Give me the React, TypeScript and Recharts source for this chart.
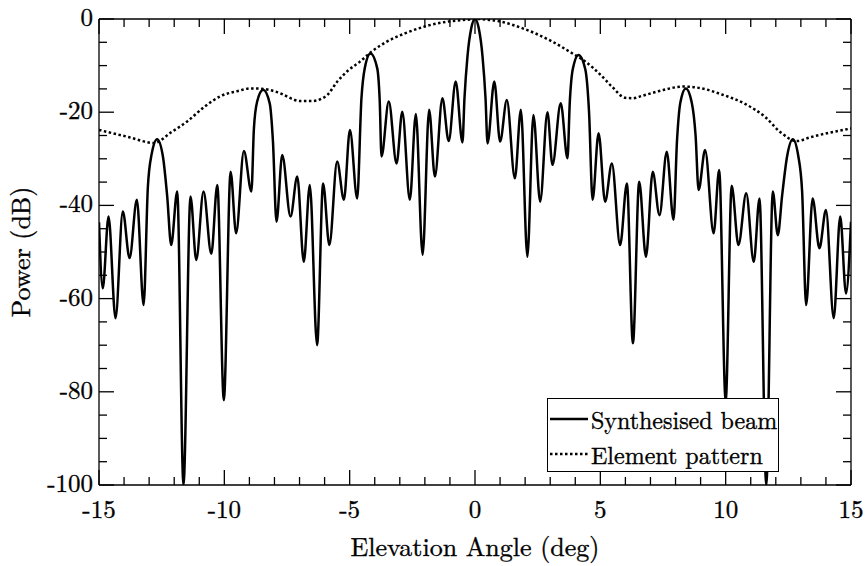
import { Label, Legend, Line, LineChart, XAxis, YAxis } from 'recharts';

const FONT = 'Latin Modern Roman, Liberation Serif, serif';
const INK = '#000';

// Synthesised beam: peaks, nulls and flanks of each lobe, left to right.
const BEAM_ANGLE = [
  -15.0, -14.85, -14.62, -14.34, -14.05, -13.78, -13.49, -13.22,
  -13.05, -12.9, -12.68, -12.45, -12.28,
  -12.12, -11.88, -11.63, -11.35, -11.12, -10.83, -10.52, -10.28, -10.02,
  -9.75, -9.53, -9.22, -8.92,
  -8.82, -8.69, -8.45, -8.19, -8.06,
  -7.92, -7.69, -7.36, -7.09, -6.83, -6.59, -6.3, -6.06, -5.81, -5.5, -5.23,
  -4.99, -4.7,
  -4.53, -4.4, -4.17, -3.9, -3.8,
  -3.73, -3.44, -3.13, -2.9, -2.6, -2.36, -2.09, -1.83, -1.6, -1.3, -1.05,
  -0.77, -0.5,
  -0.42, -0.3, -0.15, 0, 0.15, 0.3, 0.42,
  0.5, 0.77, 1.0, 1.27, 1.59, 1.83, 2.09, 2.33, 2.6, 2.89, 3.09, 3.42, 3.69,
  3.78, 3.9, 4.13, 4.4, 4.55,
  4.69, 4.93, 5.19, 5.46, 5.79, 6.06, 6.3, 6.55, 6.82, 7.09, 7.36, 7.65, 7.92,
  8.06, 8.19, 8.41, 8.65, 8.8,
  8.92, 9.18, 9.52, 9.74, 10.0, 10.24, 10.51, 10.82, 11.12, 11.35, 11.62,
  11.88, 12.08,
  12.25, 12.45, 12.68, 12.9, 13.05,
  13.21, 13.47, 13.74, 14.0, 14.31, 14.57, 14.8, 15.0,
];
const BEAM_DB = [
  -43.6, -57.8, -42.4, -64.2, -41.3, -51.3, -38.8, -61.4,
  -36, -29, -25.8, -29.5, -38,
  -48.5, -37.0, -100, -38.1, -51.7, -37.0, -50.4, -35.6, -81.8,
  -32.8, -46.0, -28.3, -37.0,
  -23.5, -17.7, -15.2, -18.1, -26.3,
  -43.5, -29.2, -42.4, -33.8, -52.1, -35.6, -70.0, -35.3, -48.5, -30.6, -38.8,
  -23.8, -38.5,
  -17, -10.6, -7.4, -10.6, -17.7,
  -29.5, -17.7, -31.0, -19.9, -38.8, -20.4, -50.6, -19.5, -33.8, -17.0, -26.2,
  -13.4, -26.5,
  -17, -8, -2, 0, -2, -8, -17,
  -26.7, -13.4, -26.3, -17.4, -34.2, -19.5, -51.0, -20.6, -39.2, -20.0, -31.3, -18.1, -29.9,
  -18, -10.8, -7.7, -10.8, -20,
  -38.8, -24.5, -39.2, -31.0, -48.5, -35.3, -69.6, -34.9, -51.0, -32.8, -42.1, -28.5, -43.1,
  -26, -18, -14.9, -18, -25,
  -36.7, -28.1, -46.0, -32.4, -82.0, -35.8, -48.5, -37.4, -52.1, -38.5, -100,
  -37.0, -46.4,
  -38, -29.5, -25.8, -29.5, -37,
  -61.4, -38.5, -49.2, -41.0, -64.2, -42.4, -58.9, -43.5,
];

// Element pattern envelope.
const ELEMENT_ANGLE = [
  -15, -13.85, -12.8, -12.12, -11.46, -10.79, -10.13, -9.49, -8.96, -8.43, -7.89,
  -6.96, -6.5, -6.16, -5.89, -5.49, -5.05, -4.6, -4.13, -3.53, -2.8, -2.0, -1.14,
  -0.2, 0, 0.97, 1.9, 2.96, 3.89, 4.42, 5.01, 5.46, 5.99, 6.3, 6.66, 7.32, 8.32,
  9.05, 9.85, 10.77, 11.57, 12.23, 12.83, 13.43, 15,
];
const ELEMENT_DB = [
  -23.8, -25.3, -26.6, -24.3, -21.9, -18.8, -16.5, -15.5, -14.9, -15.0, -15.7,
  -17.6, -17.6, -17.2, -16.3, -13.4, -11.0, -9.2, -7.0, -4.9, -3.1, -1.6, -0.6,
  -0.1, 0, -0.5, -2.0, -4.5, -7.4, -9.2, -12.0, -14.5, -16.9, -17.0, -16.5, -15.5, -14.5,
  -14.9, -16.2, -18.2, -21.0, -24.5, -26.2, -25.3, -23.5,
];

const SERIES = ['Synthesised beam', 'Element pattern'];
const X_LABELS = [-15, -10, -5, 0, 5, 10, 15];
const Y_LABELS = [-100, -80, -60, -40, -20, 0];
const X_TICKS = Array.from({ length: 31 }, (_, i) => i - 15);
const Y_TICKS = Array.from({ length: 21 }, (_, i) => -100 + i * 5);

const beam = BEAM_ANGLE.map((angle, i) => ({ angle, db: BEAM_DB[i] }));
const element = ELEMENT_ANGLE.map((angle, i) => ({ angle, db: ELEMENT_DB[i] }));

const MAJOR = 15;
const MINOR = 8;
const TICK_W = 1.3;
const DOTS = '2.5 2.5';
// thin outline so the light Latin Modern glyphs keep some body
const TEXT_STROKE = { stroke: INK, strokeWidth: 0.35 };

type TickProps = { x: number; y: number; payload: { value: number } };

function BottomTick({ x, y, payload }: TickProps) {
  const v = payload.value;
  const major = X_LABELS.includes(v);
  return (
    <g>
      <line x1={x} x2={x} y1={y} y2={y - (major ? MAJOR : MINOR)} stroke={INK} strokeWidth={TICK_W} />
      {major && (
        <text x={x} y={y + 33} textAnchor="middle" fontFamily={FONT} fontSize={25} fill={INK} {...TEXT_STROKE}>
          {v}
        </text>
      )}
    </g>
  );
}

function TopTick({ x, y, payload }: TickProps) {
  const major = X_LABELS.includes(payload.value);
  return <line x1={x} x2={x} y1={y} y2={y + (major ? MAJOR : MINOR)} stroke={INK} strokeWidth={TICK_W} />;
}

function LeftTick({ x, y, payload }: TickProps) {
  const v = payload.value;
  const major = Y_LABELS.includes(v);
  return (
    <g>
      <line x1={x} x2={x + (major ? MAJOR : MINOR)} y1={y} y2={y} stroke={INK} strokeWidth={TICK_W} />
      {major && (
        <text x={x - 6} y={y + 7} textAnchor="end" fontFamily={FONT} fontSize={25} fill={INK} {...TEXT_STROKE}>
          {v}
        </text>
      )}
    </g>
  );
}

function RightTick({ x, y, payload }: TickProps) {
  const major = Y_LABELS.includes(payload.value);
  return <line x1={x} x2={x - (major ? MAJOR : MINOR)} y1={y} y2={y} stroke={INK} strokeWidth={TICK_W} />;
}

type Box = { viewBox?: { x: number; y: number; width: number; height: number } };

function XTitle({ viewBox }: Box) {
  if (!viewBox) return null;
  return (
    <text
      x={viewBox.x + viewBox.width / 2}
      y={viewBox.y + 71}
      textAnchor="middle"
      fontFamily={FONT}
      fontSize={26}
      fill={INK}
      {...TEXT_STROKE}
    >
      Elevation Angle (deg)
    </text>
  );
}

function YTitle({ viewBox }: Box) {
  if (!viewBox) return null;
  const cx = viewBox.x + 30;
  const cy = viewBox.y + viewBox.height / 2;
  return (
    <text
      x={cx}
      y={cy}
      transform={`rotate(-90 ${cx} ${cy})`}
      textAnchor="middle"
      fontFamily={FONT}
      fontSize={26}
      fill={INK}
      {...TEXT_STROKE}
    >
      Power (dB)
    </text>
  );
}

function LegendBox() {
  return (
    <div
      style={{
        boxSizing: 'border-box',
        width: 232,
        height: 74,
        border: `1.5px solid ${INK}`,
        background: '#fff',
        padding: '2px 0 0 2px',
        fontFamily: FONT,
        fontSize: 24,
        lineHeight: '34px',
        whiteSpace: 'nowrap',
        color: INK,
        WebkitTextStroke: '0.35px #000',
      }}
    >
      {SERIES.map((name, i) => (
        <div key={name} style={{ display: 'flex', alignItems: 'center', height: 35 }}>
          <svg width={39} height={10} style={{ marginRight: 2, flexShrink: 0 }}>
            <line x1={0} x2={38} y1={5} y2={5} stroke={INK} strokeWidth={2.5} strokeDasharray={i ? DOTS : undefined} />
          </svg>
          <span>{name}</span>
        </div>
      ))}
    </div>
  );
}

export default function App() {
  return (
    <div style={{ position: 'fixed', left: 0, top: 0, width: 867, height: 566, background: '#fff', fontFamily: FONT }}>
      <LineChart width={867} height={566} margin={{ top: 0, right: 0, bottom: 0, left: 0 }}>
        <XAxis
          xAxisId="b"
          type="number"
          dataKey="angle"
          domain={[-15, 15]}
          ticks={X_TICKS}
          interval={0}
          allowDataOverflow
          height={81}
          tickSize={0}
          tickMargin={0}
          tick={BottomTick}
          axisLine={{ stroke: INK, strokeWidth: TICK_W }}
          label={<Label content={XTitle} />}
        />
        <XAxis
          xAxisId="t"
          orientation="top"
          type="number"
          dataKey="angle"
          domain={[-15, 15]}
          ticks={X_TICKS}
          interval={0}
          allowDataOverflow
          height={19}
          tickSize={0}
          tickMargin={0}
          tick={TopTick}
          axisLine={{ stroke: INK, strokeWidth: TICK_W }}
        />
        <YAxis
          yAxisId="l"
          type="number"
          domain={[-100, 0]}
          ticks={Y_TICKS}
          interval={0}
          allowDataOverflow
          width={99}
          tickSize={0}
          tickMargin={0}
          tick={LeftTick}
          axisLine={{ stroke: INK, strokeWidth: TICK_W }}
          label={<Label content={YTitle} />}
        />
        <YAxis
          yAxisId="r"
          orientation="right"
          type="number"
          domain={[-100, 0]}
          ticks={Y_TICKS}
          interval={0}
          allowDataOverflow
          width={16}
          tickSize={0}
          tickMargin={0}
          tick={RightTick}
          axisLine={{ stroke: INK, strokeWidth: TICK_W }}
        />
        <Line
          xAxisId="b"
          yAxisId="l"
          data={beam}
          dataKey="db"
          name={SERIES[0]}
          type="monotone"
          stroke={INK}
          strokeWidth={2.5}
          dot={false}
          isAnimationActive={false}
        />
        <Line
          xAxisId="b"
          yAxisId="l"
          data={element}
          dataKey="db"
          name={SERIES[1]}
          type="monotone"
          stroke={INK}
          strokeWidth={2.5}
          strokeDasharray={DOTS}
          dot={false}
          isAnimationActive={false}
        />
        <Legend
          layout="horizontal"
          verticalAlign="middle"
          align="center"
          content={<LegendBox />}
          wrapperStyle={{ left: 547, top: 398, width: 232, height: 74 }}
        />
      </LineChart>
    </div>
  );
}
